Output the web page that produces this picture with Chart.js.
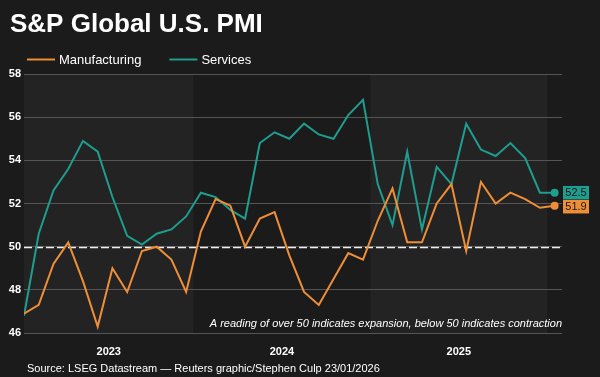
<!DOCTYPE html>
<html>
<head>
<meta charset="utf-8">
<script src="https://cdn.jsdelivr.net/npm/chart.js@4.4.1/dist/chart.umd.min.js"></script>
<style>
  html, body { margin: 0; padding: 0; background: #1b1b1b; }
  canvas { display: block; }
</style>
</head>
<body>
<canvas id="pmiChart" width="600" height="377"></canvas>
<script>
const months = [
  'Jan 2023','Feb 2023','Mar 2023','Apr 2023','May 2023','Jun 2023','Jul 2023','Aug 2023','Sep 2023','Oct 2023','Nov 2023','Dec 2023',
  'Jan 2024','Feb 2024','Mar 2024','Apr 2024','May 2024','Jun 2024','Jul 2024','Aug 2024','Sep 2024','Oct 2024','Nov 2024','Dec 2024',
  'Jan 2025','Feb 2025','Mar 2025','Apr 2025','May 2025','Jun 2025','Jul 2025','Aug 2025','Sep 2025','Oct 2025','Nov 2025','Dec 2025',
  'Jan 2026'
];
const manufacturing = [
  46.9, 47.3, 49.2, 50.2, 48.4, 46.3, 49.0, 47.9, 49.8, 50.0, 49.4, 47.9,
  50.7, 52.2, 51.9, 50.0, 51.3, 51.6, 49.6, 47.9, 47.3, 48.5, 49.7, 49.4,
  51.2, 52.7, 50.2, 50.2, 52.0, 52.9, 49.8, 53.0, 52.0, 52.5, 52.2, 51.8,
  51.9
];
const services = [
  46.8, 50.6, 52.6, 53.6, 54.9, 54.4, 52.3, 50.5, 50.1, 50.6, 50.8, 51.4,
  52.5, 52.3, 51.7, 51.3, 54.8, 55.3, 55.0, 55.7, 55.2, 55.0, 56.1, 56.8,
  52.9, 51.0, 54.4, 50.8, 53.7, 52.9, 55.7, 54.5, 54.2, 54.8, 54.1, 52.5,
  52.5
];
const yearLabels = ['2023', '2024', '2025'];
const yTicks = [46, 48, 50, 52, 54, 56, 58];
const threshold = 50;

const titleText = 'S&P Global U.S. PMI';
const noteText = 'A reading of over 50 indicates expansion, below 50 indicates contraction';
const sourceText = 'Source: LSEG Datastream \u2014 Reuters graphic/Stephen Culp 23/01/2026';

const ORANGE = '#ee8e38';
const TEAL = '#1f9d8f';
const FONT = "'Liberation Sans', Arial, sans-serif";

Chart.defaults.font.family = FONT;
Chart.defaults.color = '#ffffff';

// index range covered by a calendar year (points sit mid-month)
function yearRange(yr) {
  const idx = months.map((m, i) => (m.endsWith(yr) ? i : -1)).filter(i => i >= 0);
  return [idx[0] - 0.5, idx[idx.length - 1] + 0.5];
}

const yearBands = {
  id: 'yearBands',
  beforeDraw(chart) {
    const { ctx, chartArea, scales: { x } } = chart;
    ctx.save();
    ctx.fillStyle = '#1b1b1b';
    ctx.fillRect(0, 0, chart.width, chart.height);
    ctx.fillStyle = '#232323';
    yearLabels.forEach((yr, i) => {
      if (i % 2) return;
      const r = yearRange(yr);
      const x0 = Math.max(x.getPixelForValue(r[0]), chartArea.left);
      const x1 = Math.min(x.getPixelForValue(r[1]), chartArea.right);
      ctx.fillRect(x0, chartArea.top, x1 - x0, chartArea.bottom - chartArea.top);
    });
    ctx.restore();
  }
};

const thresholdLine = {
  id: 'thresholdLine',
  beforeDatasetsDraw(chart) {
    const { ctx, chartArea, scales: { y } } = chart;
    const py = Math.round(y.getPixelForValue(threshold)) + 0.5;
    ctx.save();
    ctx.strokeStyle = '#eeeeee';
    ctx.lineWidth = 1.5;
    ctx.setLineDash([8, 3]);
    ctx.beginPath();
    ctx.moveTo(chartArea.left, py);
    ctx.lineTo(chartArea.right, py);
    ctx.stroke();
    ctx.restore();
  }
};

// value boxes at the end of each line
const endLabels = {
  id: 'endLabels',
  afterDatasetsDraw(chart) {
    const { ctx, chartArea } = chart;
    const h = 13.5;
    const items = chart.data.datasets.map((ds, i) => {
      const meta = chart.getDatasetMeta(i);
      const pt = meta.data[meta.data.length - 1];
      return { y: pt.y, color: ds.borderColor, text: ds.data[ds.data.length - 1].y.toFixed(1) };
    }).sort((a, b) => a.y - b.y);
    let prevBottom = -Infinity;
    ctx.save();
    ctx.font = '11px ' + FONT;
    ctx.textAlign = 'center';
    ctx.textBaseline = 'middle';
    items.forEach(it => {
      let top = it.y - h / 2;
      if (top < prevBottom + 0.5) top = prevBottom + 0.5;
      prevBottom = top + h;
      ctx.fillStyle = it.color;
      ctx.fillRect(chartArea.right + 1, top, 26, h);
      ctx.fillStyle = '#1a1a1a';
      ctx.fillText(it.text, chartArea.right + 14, top + h / 2 + 0.5);
    });
    ctx.restore();
  }
};

const chartTexts = {
  id: 'chartTexts',
  afterDraw(chart) {
    const { ctx, chartArea } = chart;
    ctx.save();
    ctx.fillStyle = '#ffffff';
    ctx.textBaseline = 'alphabetic';

    ctx.font = 'bold 26px ' + FONT;
    ctx.textAlign = 'left';
    ctx.fillText(titleText, 10, 32);

    // legend
    ctx.font = '13px ' + FONT;
    let lx = 27;
    chart.data.datasets.forEach(ds => {
      ctx.strokeStyle = ds.borderColor;
      ctx.lineWidth = 2;
      ctx.beginPath();
      ctx.moveTo(lx, 59.5);
      ctx.lineTo(lx + 28, 59.5);
      ctx.stroke();
      ctx.fillStyle = '#ffffff';
      ctx.textBaseline = 'middle';
      ctx.fillText(ds.label, lx + 32, 60);
      lx += 32 + ctx.measureText(ds.label).width + 28;
    });

    ctx.textBaseline = 'alphabetic';
    ctx.font = 'italic 11px ' + FONT;
    ctx.textAlign = 'right';
    ctx.fillText(noteText, chartArea.right, 327);

    ctx.font = '11px ' + FONT;
    ctx.textAlign = 'left';
    ctx.fillText(sourceText, 27, 372);
    ctx.restore();
  }
};

const ctx = document.getElementById('pmiChart').getContext('2d');
const lastIndex = months.length - 1;

new Chart(ctx, {
  type: 'line',
  data: {
    datasets: [{
      label: 'Manufacturing',
      data: manufacturing.map((v, i) => ({ x: i, y: v })),
      borderColor: ORANGE,
      backgroundColor: ORANGE,
      borderWidth: 2,
      pointRadius: c => (c.dataIndex === lastIndex ? 3 : 0),
      tension: 0,
      fill: false
    },
    {
      label: 'Services',
      data: services.map((v, i) => ({ x: i, y: v })),
      borderColor: TEAL,
      backgroundColor: TEAL,
      borderWidth: 2,
      pointRadius: c => (c.dataIndex === lastIndex ? 3 : 0),
      tension: 0,
      fill: false
    }]
  },
  options: {
    responsive: false,
    animation: false,
    devicePixelRatio: 1,
    layout: { padding: { top: 74, right: 38, bottom: 20, left: 0 } },
    scales: {
      x: {
        type: 'linear',
        min: 0,
        max: lastIndex + 0.5,
        grid: { display: false },
        border: { display: false },
        afterBuildTicks: scale => {
          scale.ticks = yearLabels.map(yr => {
            const r = yearRange(yr);
            return { value: (Math.max(r[0], scale.min) + r[1]) / 2 };
          });
        },
        afterFit: scale => { scale.height = 24; },
        ticks: {
          autoSkip: false,
          maxRotation: 0,
          padding: 4,
          color: '#ffffff',
          font: { size: 11, weight: 'bold' },
          callback: (v, i) => yearLabels[i]
        }
      },
      y: {
        min: yTicks[0],
        max: yTicks[yTicks.length - 1],
        grid: { color: '#555555', lineWidth: 1, drawTicks: false },
        border: { display: false },
        afterFit: scale => { scale.width = 24; },
        ticks: {
          stepSize: yTicks[1] - yTicks[0],
          padding: 3,
          color: '#ffffff',
          font: { size: 11, weight: 'bold' }
        }
      }
    },
    plugins: {
      legend: { display: false },
      tooltip: { enabled: false }
    }
  },
  plugins: [yearBands, thresholdLine, endLabels, chartTexts]
});
</script>
</body>
</html>
